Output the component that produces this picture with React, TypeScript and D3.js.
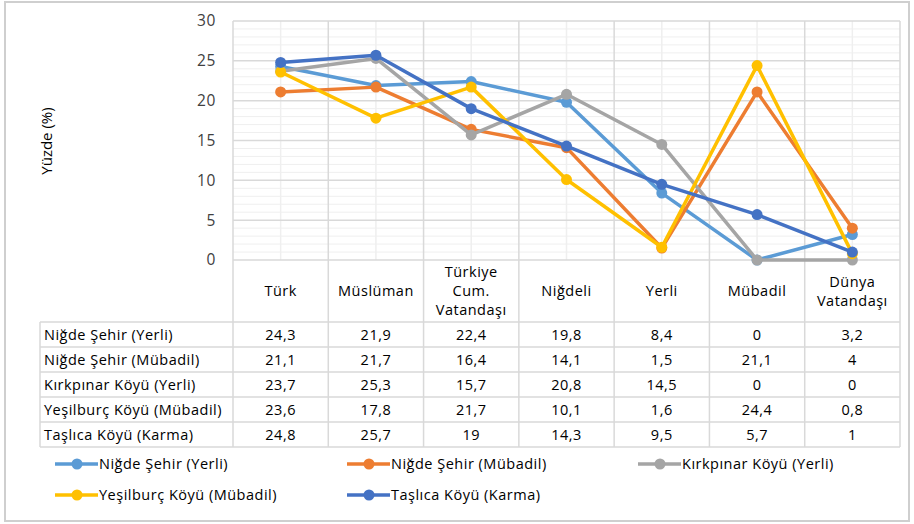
import React, { useEffect, useRef } from 'react';
import * as d3 from 'd3';

const categories = ['Türk', 'Müslüman', 'Türkiye Cum. Vatandaşı', 'Niğdeli', 'Yerli', 'Mübadil', 'Dünya Vatandaşı'];
const categoryLines = [['Türk'], ['Müslüman'], ['Türkiye', 'Cum.', 'Vatandaşı'], ['Niğdeli'], ['Yerli'], ['Mübadil'], ['Dünya', 'Vatandaşı']];
const seriesNames = ['Niğde Şehir (Yerli)', 'Niğde Şehir (Mübadil)', 'Kırkpınar Köyü (Yerli)', 'Yeşilburç Köyü (Mübadil)', 'Taşlıca Köyü (Karma)'];
const nigdeYerli = [24.3, 21.9, 22.4, 19.8, 8.4, 0, 3.2];
const nigdeMubadil = [21.1, 21.7, 16.4, 14.1, 1.5, 21.1, 4];
const kirkpinar = [23.7, 25.3, 15.7, 20.8, 14.5, 0, 0];
const yesilburc = [23.6, 17.8, 21.7, 10.1, 1.6, 24.4, 0.8];
const taslica = [24.8, 25.7, 19, 14.3, 9.5, 5.7, 1];
const yTicks = [0, 5, 10, 15, 20, 25, 30];
const colors = ['#5B9BD5', '#ED7D31', '#A5A5A5', '#FFC000', '#4472C4'];

const seriesValues = [nigdeYerli, nigdeMubadil, kirkpinar, yesilburc, taslica];
const fmt = (v: number) => String(v).replace('.', ',');

export default function App() {
  const ref = useRef<SVGSVGElement>(null);

  useEffect(() => {
    const width = 914;
    const height = 524;
    const left = 233, right = 900, top = 21, bottom = 260;
    const tableLeft = 40;
    const headerBottom = 322;
    const rowH = 25;
    const font = "'Open Sans', sans-serif";
    const fs = 14.5;
    const ls = '0.5px';

    const svg = d3.select(ref.current);
    svg.selectAll('*').remove();
    svg.attr('width', width).attr('height', height).style('display', 'block');

    svg.append('rect').attr('x', 5).attr('y', 2).attr('width', 904).attr('height', 519)
      .attr('fill', 'white').attr('stroke', '#cfcfcf').attr('stroke-width', 2);

    const xBand = d3.scaleBand().domain(categories).range([left, right]);
    const x = (c: string) => (xBand(c) as number) + xBand.bandwidth() / 2;
    const y = d3.scaleLinear().domain([0, 30]).range([bottom, top]);

    const grid = svg.append('g');
    // minor horizontal
    d3.range(0, 31, 1).filter(v => v % 5 !== 0).forEach(v => {
      grid.append('line').attr('x1', left).attr('x2', right).attr('y1', y(v)).attr('y2', y(v))
        .attr('stroke', '#efefef').attr('stroke-width', 1);
    });
    // minor vertical at centers
    categories.forEach(c => {
      grid.append('line').attr('x1', x(c)).attr('x2', x(c)).attr('y1', top).attr('y2', bottom)
        .attr('stroke', '#efefef').attr('stroke-width', 1.5);
    });
    yTicks.forEach(v => {
      grid.append('line').attr('x1', left).attr('x2', right).attr('y1', y(v)).attr('y2', y(v))
        .attr('stroke', '#d9d9d9').attr('stroke-width', 1.5);
    });
    // vertical boundaries (plot + header)
    const bounds = categories.map(c => xBand(c) as number).concat([right]);
    bounds.forEach(b => {
      grid.append('line').attr('x1', b).attr('x2', b).attr('y1', top).attr('y2', headerBottom + rowH * 5)
        .attr('stroke', '#d9d9d9').attr('stroke-width', 1.5);
    });

    // y axis labels
    svg.append('g').selectAll('text').data(yTicks).join('text')
      .attr('x', 216).attr('y', d => y(d)).attr('dy', '0.35em').attr('text-anchor', 'end')
      .attr('font-family', font).attr('font-size', 15.5).attr('letter-spacing', '0.6px')
      .attr('fill', '#404040').text(d => d);

    svg.append('text').attr('transform', 'translate(47,141) rotate(-90)').attr('text-anchor', 'middle')
      .attr('dy', '0.35em').attr('font-family', font).attr('font-size', 15).attr('fill', '#000')
      .text('Yüzde (%)');

    // header labels
    categories.forEach((c, i) => {
      const lines = categoryLines[i];
      const lh = 19;
      const startY = 291 - ((lines.length - 1) * lh) / 2;
      lines.forEach((l, j) => {
        svg.append('text').attr('x', x(c)).attr('y', startY + j * lh).attr('dy', '0.35em')
          .attr('text-anchor', 'middle').attr('font-family', font).attr('font-size', fs)
          .attr('letter-spacing', ls).attr('fill', '#000').text(l);
      });
    });

    // table
    const tbl = svg.append('g');
    for (let r = 0; r <= 5; r++) {
      tbl.append('line').attr('x1', tableLeft).attr('x2', right)
        .attr('y1', headerBottom + r * rowH).attr('y2', headerBottom + r * rowH)
        .attr('stroke', '#d9d9d9').attr('stroke-width', 1.5);
    }
    tbl.append('line').attr('x1', tableLeft).attr('x2', tableLeft).attr('y1', headerBottom).attr('y2', headerBottom + rowH * 5)
      .attr('stroke', '#d9d9d9').attr('stroke-width', 1.5);
    seriesNames.forEach((name, r) => {
      const cy = headerBottom + r * rowH + rowH / 2;
      tbl.append('text').attr('x', 44).attr('y', cy).attr('dy', '0.35em')
        .attr('font-family', font).attr('font-size', fs).attr('letter-spacing', ls)
        .attr('fill', '#000').text(name);
      seriesValues[r].forEach((v, i) => {
        tbl.append('text').attr('x', x(categories[i])).attr('y', cy).attr('dy', '0.35em')
          .attr('text-anchor', 'middle').attr('font-family', font).attr('font-size', fs)
          .attr('letter-spacing', ls).attr('fill', '#000').text(fmt(v));
      });
    });

    // lines
    const line = d3.line<number>().x((_, i) => x(categories[i])).y(d => y(d));
    seriesValues.forEach((vals, s) => {
      const g = svg.append('g');
      g.append('path').datum(vals).attr('d', line).attr('fill', 'none')
        .attr('stroke', colors[s]).attr('stroke-width', 3.5).attr('stroke-linejoin', 'round');
      g.selectAll('circle').data(vals).join('circle')
        .attr('cx', (_, i) => x(categories[i])).attr('cy', d => y(d)).attr('r', 5.5)
        .attr('fill', colors[s]);
    });

    // legend
    const legendPos = [[55, 464], [347, 464], [638, 464], [55, 495], [347, 495]];
    seriesNames.forEach((name, s) => {
      const [lx, ly] = legendPos[s];
      const g = svg.append('g');
      g.append('line').attr('x1', lx).attr('x2', lx + 43).attr('y1', ly).attr('y2', ly)
        .attr('stroke', colors[s]).attr('stroke-width', 3.5);
      g.append('circle').attr('cx', lx + 22).attr('cy', ly).attr('r', 5.5).attr('fill', colors[s]);
      g.append('text').attr('x', lx + 44).attr('y', ly).attr('dy', '0.35em')
        .attr('font-family', font).attr('font-size', fs).attr('letter-spacing', ls)
        .attr('fill', '#000').text(name);
    });
  }, []);

  return (
    <div style={{ position: 'fixed', left: 0, top: 0, width: 914, height: 524, overflow: 'hidden', background: 'white' }}>
      <svg ref={ref} />
    </div>
  );
}
